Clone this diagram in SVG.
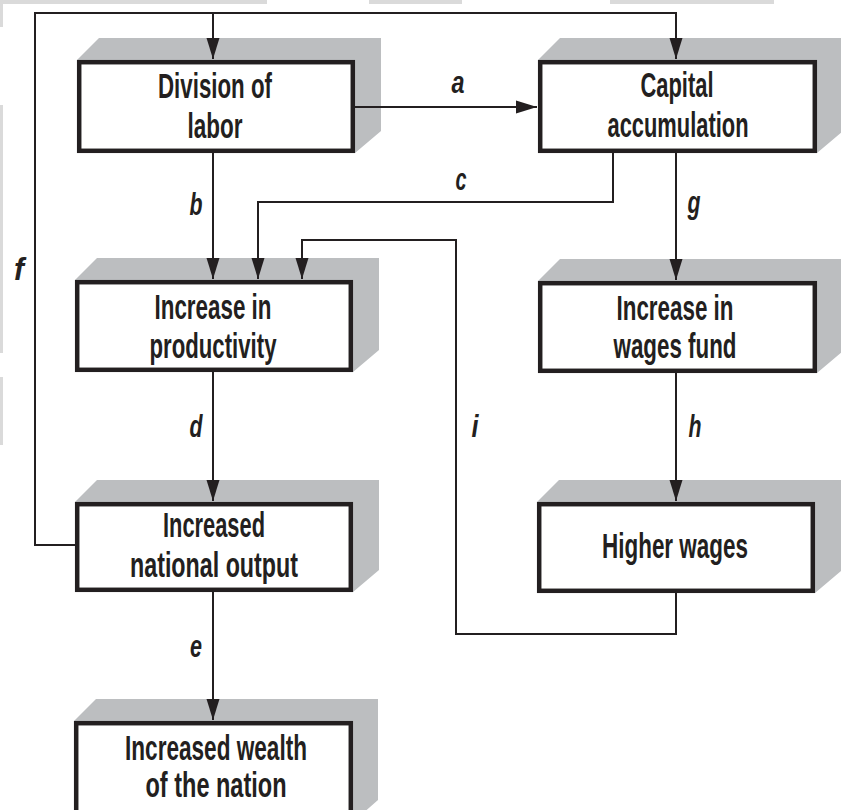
<svg xmlns="http://www.w3.org/2000/svg" width="841" height="810" viewBox="0 0 841 810">
  <style>
    .shadow { fill: #bcbec0; }
    .box { fill: #ffffff; stroke: #231f20; stroke-width: 4.5; }
    .title { font-family: "Liberation Sans Narrow", "Liberation Sans", sans-serif; font-size: 35px; font-weight: bold; fill: #231f20; text-anchor: middle; }
    .lbl { font-family: "Liberation Sans Narrow", "Liberation Sans", sans-serif; font-size: 31px; font-weight: bold; font-style: italic; fill: #231f20; text-anchor: middle; }
    .wire { fill: none; stroke: #231f20; stroke-width: 2; }
    .edge { fill: #dadada; }
  </style>
  <defs>
    <marker id="arrow" markerUnits="userSpaceOnUse" markerWidth="22" markerHeight="14" viewBox="0 -7 22 14" refX="21" refY="0" orient="auto">
      <path d="M0,-6.5 L21,0 L0,6.5 z" fill="#231f20"/>
    </marker>
  </defs>

  <rect width="841" height="810" fill="#ffffff"/>

  <!-- faint paper edges -->
  <g id="edges">
    <rect class="edge" x="0" y="0" width="267" height="4"/>
    <rect class="edge" x="369" y="0" width="93" height="4"/>
    <rect class="edge" x="610" y="0" width="164" height="4"/>
    <rect class="edge" x="0" y="0" width="3" height="27"/>
    <rect class="edge" x="0" y="105" width="3" height="248"/>
    <rect class="edge" x="0" y="377" width="3" height="68"/>
  </g>

  <g id="division-of-labor">
    <polygon class="shadow" points="77,60 99,38 381,38 381,131 355,153 355,60"/>
    <rect class="box" x="79.2" y="62.2" width="273.6" height="88.6"/>
    <text class="title" x="215" y="98" textLength="114" lengthAdjust="spacingAndGlyphs">Division of</text>
    <text class="title" x="215" y="138" textLength="55" lengthAdjust="spacingAndGlyphs">labor</text>
  </g>

  <g id="capital-accumulation">
    <polygon class="shadow" points="538,60 560,38 843,38 843,131 817,153 817,60"/>
    <rect class="box" x="540.2" y="62.2" width="274.6" height="88.6"/>
    <text class="title" x="677" y="97" textLength="73" lengthAdjust="spacingAndGlyphs">Capital</text>
    <text class="title" x="678" y="137" textLength="141" lengthAdjust="spacingAndGlyphs">accumulation</text>
  </g>

  <g id="increase-in-productivity">
    <polygon class="shadow" points="75,280 97,258 379,258 379,350 353,372 353,280"/>
    <rect class="box" x="77.2" y="282.2" width="273.6" height="87.6"/>
    <text class="title" x="213" y="319" textLength="117" lengthAdjust="spacingAndGlyphs">Increase in</text>
    <text class="title" x="213" y="358" textLength="127" lengthAdjust="spacingAndGlyphs">productivity</text>
  </g>

  <g id="increase-in-wages-fund">
    <polygon class="shadow" points="538,281 560,259 843,259 843,351 817,373 817,281"/>
    <rect class="box" x="540.2" y="283.2" width="274.6" height="87.6"/>
    <text class="title" x="675" y="320" textLength="117" lengthAdjust="spacingAndGlyphs">Increase in</text>
    <text class="title" x="675" y="358" textLength="123" lengthAdjust="spacingAndGlyphs">wages fund</text>
  </g>

  <g id="increased-national-output">
    <polygon class="shadow" points="75,502 97,480 379,480 379,570 353,592 353,502"/>
    <rect class="box" x="77.2" y="504.2" width="273.6" height="85.6"/>
    <text class="title" x="214" y="537" textLength="102" lengthAdjust="spacingAndGlyphs">Increased</text>
    <text class="title" x="214" y="577" textLength="168" lengthAdjust="spacingAndGlyphs">national output</text>
  </g>

  <g id="higher-wages">
    <polygon class="shadow" points="537,502 559,480 841,480 841,571 815,593 815,502"/>
    <rect class="box" x="539.2" y="504.2" width="273.6" height="86.6"/>
    <text class="title" x="675" y="558" textLength="146" lengthAdjust="spacingAndGlyphs">Higher wages</text>
  </g>

  <g id="increased-wealth-of-the-nation">
    <polygon class="shadow" points="74,721 96,699 378,699 378,800 353,822 353,721"/>
    <rect class="box" x="76.2" y="723.2" width="274.6" height="100"/>
    <text class="title" x="216" y="760" textLength="182" lengthAdjust="spacingAndGlyphs">Increased wealth</text>
    <text class="title" x="216" y="797" textLength="141" lengthAdjust="spacingAndGlyphs">of the nation</text>
  </g>

  <!-- connectors, drawn over the box shadows -->
  <g id="connectors">
    <!-- f: national output back to the top row -->
    <path class="wire" d="M75,545 H35 V13 H676 V59" marker-end="url(#arrow)"/>
    <path class="wire" d="M213,13 V59" marker-end="url(#arrow)"/>
    <!-- a -->
    <path class="wire" d="M355,107 H537" marker-end="url(#arrow)"/>
    <!-- b -->
    <path class="wire" d="M213,153 V279" marker-end="url(#arrow)"/>
    <!-- c -->
    <path class="wire" d="M613,153 V202 H258 V279" marker-end="url(#arrow)"/>
    <!-- i -->
    <path class="wire" d="M676,593 V634 H456 V240 H302 V279" marker-end="url(#arrow)"/>
    <!-- d -->
    <path class="wire" d="M213,372 V501" marker-end="url(#arrow)"/>
    <!-- e -->
    <path class="wire" d="M213,592 V720" marker-end="url(#arrow)"/>
    <!-- g -->
    <path class="wire" d="M676,153 V280" marker-end="url(#arrow)"/>
    <!-- h -->
    <path class="wire" d="M676,373 V501" marker-end="url(#arrow)"/>
  </g>

  <!-- edge labels -->
  <g id="labels">
    <text class="lbl" x="458" y="93" textLength="13" lengthAdjust="spacingAndGlyphs">a</text>
    <text class="lbl" x="196" y="215" textLength="13" lengthAdjust="spacingAndGlyphs">b</text>
    <text class="lbl" x="461" y="190" textLength="11" lengthAdjust="spacingAndGlyphs">c</text>
    <text class="lbl" x="196" y="437" textLength="13" lengthAdjust="spacingAndGlyphs">d</text>
    <text class="lbl" x="196" y="657" textLength="12" lengthAdjust="spacingAndGlyphs">e</text>
    <text class="lbl" x="19" y="280" textLength="10" lengthAdjust="spacingAndGlyphs">f</text>
    <text class="lbl" x="694" y="213" textLength="13" lengthAdjust="spacingAndGlyphs">g</text>
    <text class="lbl" x="695" y="437" textLength="13" lengthAdjust="spacingAndGlyphs">h</text>
    <text class="lbl" x="475" y="437" textLength="7" lengthAdjust="spacingAndGlyphs">i</text>
  </g>
</svg>
